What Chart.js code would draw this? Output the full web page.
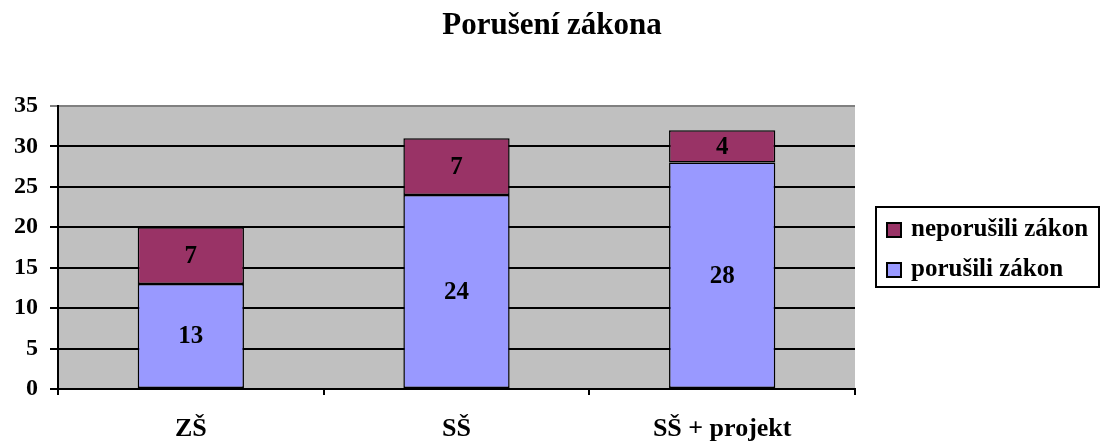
<!DOCTYPE html>
<html><head><meta charset="utf-8">
<script src="https://cdn.jsdelivr.net/npm/chart.js@4/dist/chart.umd.min.js"></script>
<style>html,body{margin:0;padding:0;background:#fff}#wrap{width:1101px;height:443px}</style>
</head><body><div id="wrap"><canvas id="c" width="1101" height="443"></canvas></div>
<script>
const categories = ["ZŠ", "SŠ", "SŠ + projekt"];
const porusili = [13, 24, 28];
const neporusili = [7, 7, 4];
const seriesNames = ["porušili zákon", "neporušili zákon"];
const titleText = "Porušení zákona";
const yTicks = [0, 5, 10, 15, 20, 25, 30, 35];

const FONT = "'Liberation Serif', 'Times New Roman', serif";
const colors = ["#9999FF", "#993366"];

const bgPlugin = {
  id: 'bg',
  beforeDraw(chart) {
    const {ctx, chartArea: a} = chart;
    ctx.save();
    ctx.fillStyle = '#C0C0C0';
    ctx.fillRect(a.left, a.top, a.right - a.left, a.bottom - a.top);
    ctx.restore();
  },
  afterDraw(chart) {
    const ctx = chart.ctx;
    ctx.save();
    // title
    ctx.fillStyle = '#000';
    ctx.font = "bold 31px " + FONT;
    ctx.textAlign = 'center';
    ctx.textBaseline = 'middle';
    ctx.fillText(titleText, 552, 26);
    // value labels
    ctx.font = "bold 25px " + FONT;
    chart.data.datasets.forEach((ds, di) => {
      chart.getDatasetMeta(di).data.forEach((bar, i) => {
        const y = (bar.y + bar.base) / 2;
        ctx.fillText(String(ds.data[i]), bar.x, y + 1);
      });
    });
    // legend
    const lx = 876, ly = 207, lw = 223, lh = 80;
    ctx.fillStyle = '#fff';
    ctx.fillRect(lx, ly, lw, lh);
    ctx.strokeStyle = '#000';
    ctx.lineWidth = 2;
    ctx.strokeRect(lx, ly, lw, lh);
    const items = [[seriesNames[1], colors[1], 230], [seriesNames[0], colors[0], 270]];
    ctx.textAlign = 'left';
    ctx.font = "bold 25px " + FONT;
    items.forEach(([t, c, y]) => {
      ctx.fillStyle = c;
      ctx.fillRect(887, y - 7, 14, 14);
      ctx.strokeRect(887, y - 7, 14, 14);
      ctx.fillStyle = '#000';
      ctx.fillText(t, 911, y);
    });
    ctx.restore();
  }
};

new Chart(document.getElementById('c'), {
  type: 'bar',
  data: {
    labels: categories,
    datasets: [
      {label: seriesNames[0], data: porusili, backgroundColor: colors[0], borderColor: '#000', borderWidth: 1.5, borderSkipped: false},
      {label: seriesNames[1], data: neporusili, backgroundColor: colors[1], borderColor: '#000', borderWidth: 1.5, borderSkipped: false}
    ]
  },
  options: {
    responsive: false,
    animation: false,
    events: [],
    layout: {padding: {top: 106, right: 246, left: 0, bottom: 0}},
    plugins: {legend: {display: false}, title: {display: false}, tooltip: {enabled: false}},
    datasets: {bar: {categoryPercentage: 1, barPercentage: 0.4}},
    scales: {
      x: {
        stacked: true,
        offset: true,
        afterFit(s) { s.height = 54; },
        grid: {offset: true, drawOnChartArea: false, color: '#000', lineWidth: 2, tickLength: 6},
        border: {color: '#000', width: 2},
        ticks: {color: '#000', font: {family: FONT, size: 26, weight: 'bold'}, padding: 19, maxRotation: 0}
      },
      y: {
        stacked: true,
        min: 0, max: 35,
        afterFit(s) { s.width = 58; },
        afterBuildTicks(s) { s.ticks = yTicks.map(v => ({value: v})); },
        grid: {color: ctx => ctx.tick && ctx.tick.value === 35 ? '#808080' : '#000', lineWidth: 2, tickLength: 8},
        border: {color: '#000', width: 2},
        ticks: {color: '#000', font: {family: FONT, size: 24, weight: 'bold'}, padding: 12, stepSize: 5}
      }
    }
  },
  plugins: [bgPlugin]
});
</script>
</body></html>
